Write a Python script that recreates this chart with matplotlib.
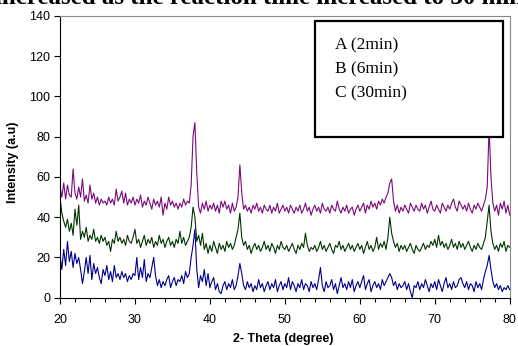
import numpy as np
import matplotlib
matplotlib.use("Agg")
import matplotlib.pyplot as plt
from matplotlib.ticker import MultipleLocator

# 2-theta grid, 0.25 degree step from 20 to 80
two_theta = np.arange(20.0, 80.001, 0.25)

# A (2min) - purple
series_a = [
    55, 50, 57, 49, 56, 51, 50, 64,
    52, 49, 55, 50, 59, 48, 51, 47,
    56, 49, 52, 47, 50, 46, 49, 47,
    48, 46, 50, 47, 49, 46, 54, 48,
    50, 53, 47, 52, 46, 49, 47, 50,
    46, 49, 47, 51, 45, 48, 46, 50,
    47, 44, 49, 46, 48, 45, 50, 41,
    47, 44, 50, 46, 48, 45, 47, 44,
    47, 45, 49, 46, 48, 47, 56, 80,
    87, 62, 45, 42, 47, 44, 48, 43,
    46, 44, 47, 43, 46, 42, 48, 45,
    48, 44, 46, 42, 47, 43, 45, 50,
    66, 52, 44, 46, 43, 45, 42, 46,
    44, 47, 43, 45, 42, 46, 44, 43,
    46, 42, 45, 43, 47, 42, 44, 46,
    43, 45, 42, 46, 44, 42, 45, 43,
    46, 42, 44, 47, 43, 45, 41, 44,
    46, 43, 45, 42, 47, 44, 43, 45,
    42, 46, 44, 43, 48, 44, 42, 45,
    43, 46, 42, 44, 45, 41, 44, 46,
    43, 45, 47, 42, 46, 44, 48, 45,
    47, 44, 48, 46, 49, 47, 50, 52,
    57, 59, 48, 43, 46, 42, 45, 43,
    46, 44, 42, 47, 45, 43, 46, 44,
    43, 47, 44, 46, 42, 45, 48, 44,
    43, 46, 44, 42, 47, 45, 43, 46,
    44, 47, 49, 45, 43, 48, 46, 44,
    46, 43, 47, 44, 42, 46, 44, 47,
    45, 43, 46, 49, 55, 85, 60, 47,
    43, 46, 41, 47, 44, 48, 42, 46,
    41,
]

# B (6min) - dark green
series_b = [
    50, 42, 38, 35, 39, 33, 37, 31,
    44, 36, 46, 29, 33, 30, 35, 28,
    31, 29, 34, 28, 30, 27, 31, 28,
    30, 26, 28, 23, 29, 27, 33, 28,
    30, 27, 29, 26, 31, 28, 27, 30,
    34, 27, 29, 25, 28, 31, 26, 29,
    27, 30, 25, 28, 26, 31, 27, 29,
    25, 28, 30, 26, 28, 25, 29, 27,
    33, 27, 30, 26, 28, 30, 35, 45,
    40, 28, 31, 26, 32, 24, 27, 22,
    26, 23, 28, 25, 22, 27, 24, 26,
    23, 28, 25, 27, 24, 26, 30, 34,
    42, 30, 26, 28, 24, 26, 22, 25,
    27, 24, 26, 23, 25, 28, 24, 26,
    23, 27, 25, 22, 26, 24, 28, 25,
    24, 26, 23, 25, 27, 24, 22, 26,
    24, 27, 25, 32, 26, 23, 25, 24,
    26, 23, 25, 28, 24, 26, 23, 25,
    27, 24, 22, 26, 25, 28, 24, 26,
    23, 25, 27, 24, 26, 23, 25, 27,
    24, 26, 22, 25, 28, 24, 26, 23,
    25, 30, 24, 27, 25, 28, 24, 30,
    40, 32, 28, 25, 27, 23, 26, 24,
    26, 23, 25, 27, 24, 22, 26, 24,
    23, 25, 27, 24, 26, 25, 28, 26,
    29, 25, 31, 26, 28, 25, 27, 24,
    26, 29, 25, 27, 24, 28, 25, 27,
    24, 26, 28, 25, 23, 26, 24, 27,
    25, 24, 27, 30, 38, 46, 33, 27,
    24, 26, 23, 27, 25, 28, 23, 26,
    25,
]

# C (30min) - navy
series_c = [
    21, 14, 24, 16, 28, 18, 23, 15,
    22, 17, 20, 14, 7, 13, 20, 12,
    21, 9, 17, 12, 15, 10, 7, 14,
    11, 16, 9, 13, 8, 16, 10, 12,
    9, 13, 10, 12, 8, 11, 9, 12,
    11, 20, 9, 15, 10, 19, 8, 12,
    10, 15, 20, 11, 6, 9, 5, 8,
    6, 9, 11, 5, 8, 10, 6, 9,
    8, 11, 7, 13, 10, 12, 20, 26,
    34, 14, 5, 11, 8, 14, 6, 12,
    5, 8, 10, 4, 7, 3, 2, 6,
    8, 4, 7, 5, 9, 4, 6, 11,
    17, 12, 6, 4, 8, 5, 7, 3,
    6, 4, 9, 5, 7, 3, 6, 8,
    4, 7, 5, 9, 3, 6, 8, 4,
    7, 5, 10, 4, 8, 6, 3, 7,
    5, 9, 4, 7, 6, 3, 8, 5,
    7, 4, 9, 15, 6, 3, 8, 5,
    6, 9, 4, 7, 2, 6, 10, 5,
    7, 4, 8, 5, 9, 3, 6, 8,
    5, 8, 11, 4, 7, 9, 3, 6,
    8, 5, 7, 4, 9, 6, 8, 10,
    12, 10, 6, 8, 4, 7, 5, 6,
    8, 4, 7, 3, 0, 6, 5, 8,
    4, 7, 5, 9, 6, 3, 7, 5,
    8, 4, 9, 6, 3, 7, 10, 5,
    7, 4, 8, 5, 6, 9, 10, 7,
    5, 8, 4, 7, 6, 3, 8, 5,
    7, 4, 9, 13, 16, 21, 14, 8,
    5, 7, 4, 6, 3, 5, 4, 6,
    4,
]

legend_lines = ["A (2min)", "B (6min)", "C (30min)"]

fig = plt.figure(figsize=(5.18, 3.46), dpi=100)
ax = fig.add_axes([0.1158, 0.1396, 0.8682, 0.8142])

ax.plot(two_theta, series_a, color="#7a0a7a", lw=0.8)
ax.plot(two_theta, series_b, color="#003300", lw=0.8)
ax.plot(two_theta, series_c, color="#00008b", lw=0.8)

ax.set_xlim(20, 80)
ax.set_ylim(0, 140)
ax.xaxis.set_major_locator(MultipleLocator(10))
ax.xaxis.set_minor_locator(MultipleLocator(2))
ax.yaxis.set_major_locator(MultipleLocator(20))
ax.tick_params(axis="both", which="major", direction="out", length=4, width=0.8,
               labelsize=9, pad=3)
ax.tick_params(axis="x", which="major", pad=8)
ax.tick_params(axis="x", which="minor", direction="out", length=3, width=0.8)

for lbl in ax.get_xticklabels() + ax.get_yticklabels():
    lbl.set_family("Liberation Sans")

ax.spines["left"].set_color("black")
ax.spines["bottom"].set_color("black")
ax.spines["top"].set_color("#888888")
ax.spines["right"].set_color("#888888")

fig.text(283 / 518, 1 - 339 / 346, "2- Theta (degree)", ha="center", va="center",
         fontsize=9, fontweight="bold", family="Liberation Sans")
fig.text(13 / 518, 1 - 162 / 346, "Intensity (a.u)", ha="center", va="center",
         rotation=90, fontsize=9, fontweight="bold", family="Liberation Sans")

# boxed text legend
box = plt.Rectangle((314.7 / 518, 1 - 137 / 346), (503 - 314.7) / 518, (137 - 21.3) / 346,
                    transform=fig.transFigure, facecolor="white", edgecolor="black",
                    lw=1.6, zorder=5)
fig.patches.append(box)
for i, t in enumerate(legend_lines):
    fig.text(335 / 518, 1 - (45 + 24 * i) / 346, t, ha="left", va="center",
             fontsize=12.5, family="Liberation Serif", zorder=6)

# caption line from the page above, cut off by the crop
fig.text(-0.01, 1 - 4.5 / 346, "increased as the reaction time increased to 30 min",
         ha="left", va="baseline", fontsize=18, fontweight="bold",
         family="Liberation Serif")

fig.savefig("out.png", dpi=100)
